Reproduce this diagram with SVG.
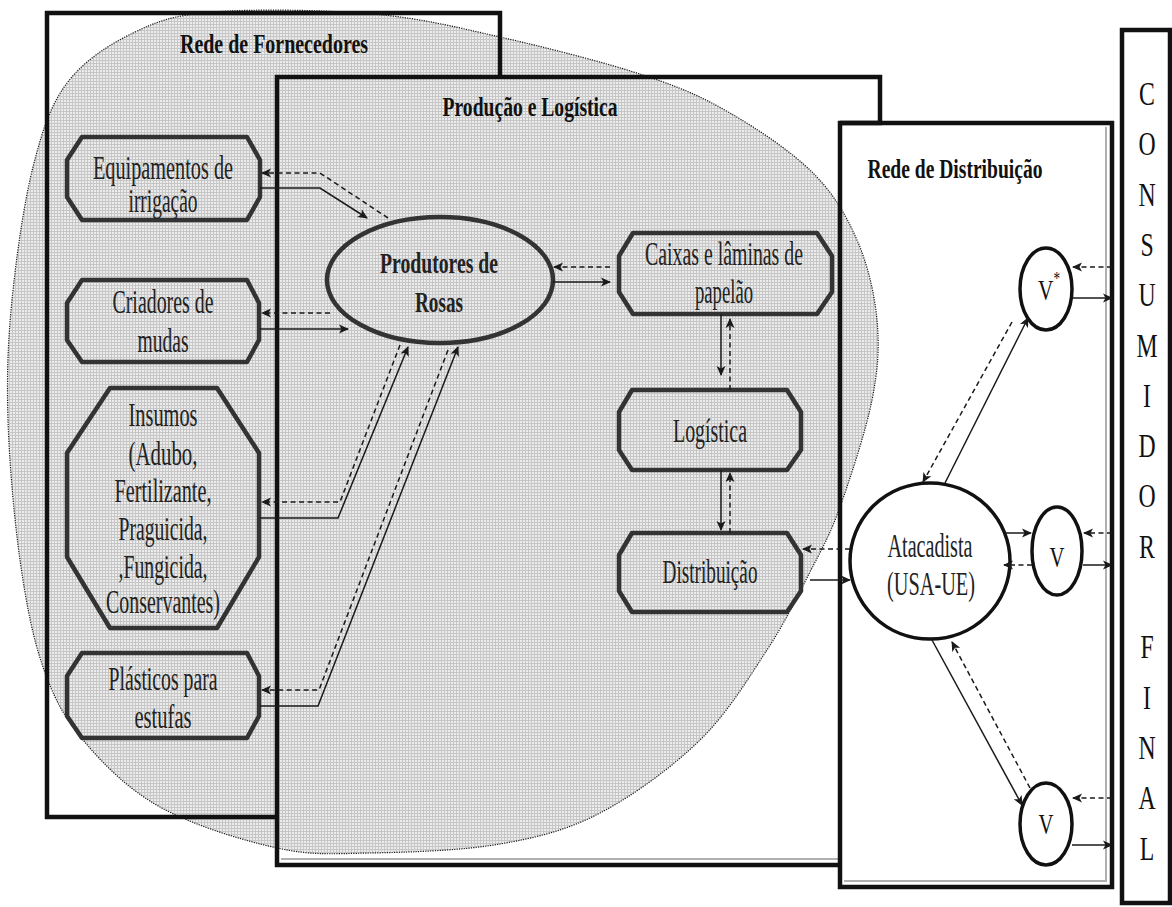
<svg xmlns="http://www.w3.org/2000/svg" width="1172" height="907" viewBox="0 0 1172 907">
<style>
  .frame{fill:none;stroke:#111;stroke-width:4.5;stroke-linejoin:miter}
  .inner{fill:none;stroke:#b0b0b0;stroke-width:2}
  .blob{fill:url(#grain);stroke:#1a1a1a;stroke-width:1.2;stroke-dasharray:1.2 1.2}
  .oct{fill:none;stroke:#333;stroke-width:4.5;stroke-linejoin:round}
  .ell{fill:none;stroke:#333;stroke-width:4.5}
  .ellw{fill:#fff;stroke:#111;stroke-width:3.5}
  .t{font-family:"Liberation Serif","Times New Roman",serif;fill:#222;text-anchor:middle}
  .n{font-size:33px}
  .h{font-size:28px;font-weight:bold;fill:#111}
  .b{font-size:30px;font-weight:bold}
  .v{font-size:29px;fill:#111}
  .cf{font-size:33px;fill:#111}
  .s{fill:none;stroke:#1a1a1a;stroke-width:1.5;marker-end:url(#ah)}
  .d{fill:none;stroke:#1a1a1a;stroke-width:1.5;stroke-dasharray:5 3.5;marker-end:url(#ah)}
</style>
<defs>
  <pattern id="grain" width="3" height="3" patternUnits="userSpaceOnUse">
    <rect width="3" height="3" fill="#ececec"/>
    <path d="M0 0.5H3M0.5 0V3" stroke="#c6c6c6" stroke-width="1"/>
  </pattern>
  <marker id="ah" viewBox="0 0 10 10" refX="9" refY="5" markerWidth="11" markerHeight="10" markerUnits="userSpaceOnUse" orient="auto">
    <path d="M0,0.5 L10,5 L0,9.5 L2.5,5 z" fill="#1a1a1a"/>
  </marker>
</defs>

<rect width="1172" height="907" fill="#fff"/>

<!-- shaded region covering suppliers and production -->
<path id="regiao" class="blob" d="M213,12 C253,8.8 325.2,9.8 373,14 C420.8,18.2 455,26.8 500,37 C545,47.2 604.7,62.3 643,75 C681.3,87.7 701.7,96.7 730,113 C758.3,129.3 791.8,151.8 813,173 C834.2,194.2 846.3,215.5 857,240 C867.7,264.5 874.5,293.3 877,320 C879.5,346.7 878.2,368.8 872,400 C865.8,431.2 850.3,478.3 840,507 C829.7,535.7 822.2,548.2 810,572 C797.8,595.8 785.3,622 767,650 C748.7,678 727.8,712.8 700,740 C672.2,767.2 633.3,795.7 600,813 C566.7,830.3 538.3,837.3 500,844 C461.7,850.7 407.2,852.3 370,853 C332.8,853.7 312,855.7 277,848 C242,840.3 192.3,825 160,807 C127.7,789 102.5,763.3 83,740 C63.5,716.7 53.5,697 43,667 C32.5,637 25.8,601.2 20,560 C14.2,518.8 9.3,463.3 8,420 C6.7,376.7 7.8,342.2 12,300 C16.2,257.8 23.8,203.2 33,167 C42.2,130.8 50.3,105.3 67,83 C83.7,60.7 108.7,44.8 133,33 C157.3,21.2 173,15.2 213,12 Z"/>

<!-- frames -->
<g id="rede-fornecedores">
  <polyline class="frame" points="500,77 500,13 47,13 47,817 277,817"/>
  <text class="t h" x="274" y="53" textLength="188" lengthAdjust="spacingAndGlyphs">Rede de Fornecedores</text>
</g>
<g id="producao-logistica">
  <line class="inner" x1="281" y1="859" x2="838" y2="859"/>
  <polyline class="frame" points="840,123 880,123 880,77 277,77 277,865 840,865"/>
  <text class="t h" x="530" y="116" textLength="175" lengthAdjust="spacingAndGlyphs">Produção e Logística</text>
</g>
<g id="rede-distribuicao">
  <polyline class="inner" points="844,881 1106,881 1106,127"/>
  <rect class="frame" x="840" y="123" width="272" height="764"/>
  <text class="t h" x="955" y="178" textLength="175" lengthAdjust="spacingAndGlyphs">Rede de Distribuição</text>
</g>
<g id="consumidor-final">
  <rect class="frame" x="1122" y="30" width="48" height="873"/>
  <g transform="translate(1147 0) scale(0.72 1)">
    <text class="t cf" x="0" y="105">C</text>
    <text class="t cf" x="0" y="155">O</text>
    <text class="t cf" x="0" y="206">N</text>
    <text class="t cf" x="0" y="256">S</text>
    <text class="t cf" x="0" y="306">U</text>
    <text class="t cf" x="0" y="357">M</text>
    <text class="t cf" x="0" y="407">I</text>
    <text class="t cf" x="0" y="457">D</text>
    <text class="t cf" x="0" y="507">O</text>
    <text class="t cf" x="0" y="558">R</text>
    <text class="t cf" x="0" y="658">F</text>
    <text class="t cf" x="0" y="709">I</text>
    <text class="t cf" x="0" y="759">N</text>
    <text class="t cf" x="0" y="809">A</text>
    <text class="t cf" x="0" y="860">L</text>
  </g>
</g>

<!-- suppliers -->
<g id="equipamentos">
  <polygon class="oct" points="82,137 247,137 260,160 260,197 247,220 82,220 67,197 67,160"/>
  <text class="t n" x="163" y="179" font-size="31" textLength="140" lengthAdjust="spacingAndGlyphs">Equipamentos de</text>
  <text class="t n" x="163" y="212" font-size="31" textLength="69" lengthAdjust="spacingAndGlyphs">irrigação</text>
</g>
<g id="criadores">
  <polygon class="oct" points="82,280 247,280 259,303 259,340 247,362 82,362 67,340 67,303"/>
  <text class="t n" x="163" y="313" textLength="101" lengthAdjust="spacingAndGlyphs">Criadores de</text>
  <text class="t n" x="163" y="352" textLength="51" lengthAdjust="spacingAndGlyphs">mudas</text>
</g>
<g id="insumos">
  <polygon class="oct" points="110,388 217,388 259,453 259,557 217,628 110,628 67,557 67,453"/>
  <text class="t n" x="163" y="426" textLength="69" lengthAdjust="spacingAndGlyphs">Insumos</text>
  <text class="t n" x="163" y="465" textLength="69" lengthAdjust="spacingAndGlyphs">(Adubo,</text>
  <text class="t n" x="163" y="502" textLength="97" lengthAdjust="spacingAndGlyphs">Fertilizante,</text>
  <text class="t n" x="163" y="540" textLength="89" lengthAdjust="spacingAndGlyphs">Praguicida,</text>
  <text class="t n" x="163" y="578" textLength="89" lengthAdjust="spacingAndGlyphs">,Fungicida,</text>
  <text class="t n" x="163" y="613" textLength="114" lengthAdjust="spacingAndGlyphs">Conservantes)</text>
</g>
<g id="plasticos">
  <polygon class="oct" points="82,653 247,653 259,676 259,716 247,738 82,738 67,716 67,676"/>
  <text class="t n" x="163" y="690" textLength="109" lengthAdjust="spacingAndGlyphs">Plásticos para</text>
  <text class="t n" x="163" y="728" textLength="57" lengthAdjust="spacingAndGlyphs">estufas</text>
</g>

<!-- production and logistics -->
<g id="produtores">
  <ellipse class="ell" cx="440" cy="280" rx="113" ry="63"/>
  <text class="t b" x="439" y="273" textLength="118" lengthAdjust="spacingAndGlyphs">Produtores de</text>
  <text class="t b" x="439" y="312" textLength="48" lengthAdjust="spacingAndGlyphs">Rosas</text>
</g>
<g id="caixas">
  <polygon class="oct" points="633,233 817,233 832,256 832,292 817,314 633,314 619,292 619,256"/>
  <text class="t n" x="724" y="265" textLength="158" lengthAdjust="spacingAndGlyphs">Caixas e lâminas de</text>
  <text class="t n" x="724" y="303" textLength="58" lengthAdjust="spacingAndGlyphs">papelão</text>
</g>
<g id="logistica">
  <polygon class="oct" points="632,390 787,390 801,412 801,450 787,470 632,470 619,450 619,412"/>
  <text class="t n" x="710" y="442" textLength="74" lengthAdjust="spacingAndGlyphs">Logística</text>
</g>
<g id="distribuicao">
  <polygon class="oct" points="632,533 787,533 801,555 801,591 787,612 632,612 619,591 619,555"/>
  <text class="t n" x="710" y="583" textLength="95" lengthAdjust="spacingAndGlyphs">Distribuição</text>
</g>

<!-- distribution -->
<g id="atacadista">
  <ellipse class="ellw" cx="930" cy="561" rx="80" ry="78"/>
  <text class="t n" x="930" y="557" textLength="85" lengthAdjust="spacingAndGlyphs">Atacadista</text>
  <text class="t n" x="931" y="595" textLength="88" lengthAdjust="spacingAndGlyphs">(USA-UE)</text>
</g>
<g id="varejo-topo">
  <ellipse class="ellw" cx="1046" cy="289" rx="26" ry="41"/>
  <text class="t v" x="1049" y="300" textLength="22" lengthAdjust="spacingAndGlyphs">V<tspan font-size="18" dy="-15">*</tspan></text>
</g>
<g id="varejo-meio">
  <ellipse class="ellw" cx="1057" cy="551" rx="25" ry="44"/>
  <text class="t v" x="1057" y="567" textLength="15" lengthAdjust="spacingAndGlyphs">V</text>
</g>
<g id="varejo-base">
  <ellipse class="ellw" cx="1046" cy="824" rx="26" ry="41"/>
  <text class="t v" x="1046" y="834" textLength="15" lengthAdjust="spacingAndGlyphs">V</text>
</g>

<!-- connectors: solid = goods flow, dashed = information flow -->
<g id="conectores">
  <path class="d" d="M388,218 L320,173 L262,173"/>
  <path class="s" d="M260,188 L320,188 L367,218"/>
  <path class="d" d="M330,313 L262,313"/>
  <path class="s" d="M260,329 L348,329"/>
  <path class="d" d="M400,345 L340,502 L262,502"/>
  <path class="s" d="M260,518 L338,518 L408,347"/>
  <path class="d" d="M448,350 L319,690 L262,690"/>
  <path class="s" d="M260,706 L318,706 L458,347"/>

  <path class="d" d="M610,267 L554,267"/>
  <path class="s" d="M553,282 L610,282"/>
  <path class="s" d="M721,314 L721,375"/>
  <path class="d" d="M730,390 L730,319"/>
  <path class="s" d="M721,470 L721,530"/>
  <path class="d" d="M730,533 L730,473"/>

  <path class="d" d="M850,549 L803,549"/>
  <path class="s" d="M810,580 L850,580"/>

  <path class="s" d="M945,483 L1028,318"/>
  <path class="d" d="M1012,322 L923,482"/>
  <path class="s" d="M1005,533 L1031,533"/>
  <path class="d" d="M1032,565 L1004,565"/>
  <path class="s" d="M932,640 L1022,805"/>
  <path class="d" d="M1030,788 L952,642"/>

  <path class="d" d="M1112,267 L1073,267"/>
  <path class="s" d="M1072,298 L1112,298"/>
  <path class="d" d="M1112,533 L1084,533"/>
  <path class="s" d="M1083,565 L1112,565"/>
  <path class="d" d="M1112,798 L1073,798"/>
  <path class="s" d="M1072,845 L1112,845"/>
</g>
</svg>
